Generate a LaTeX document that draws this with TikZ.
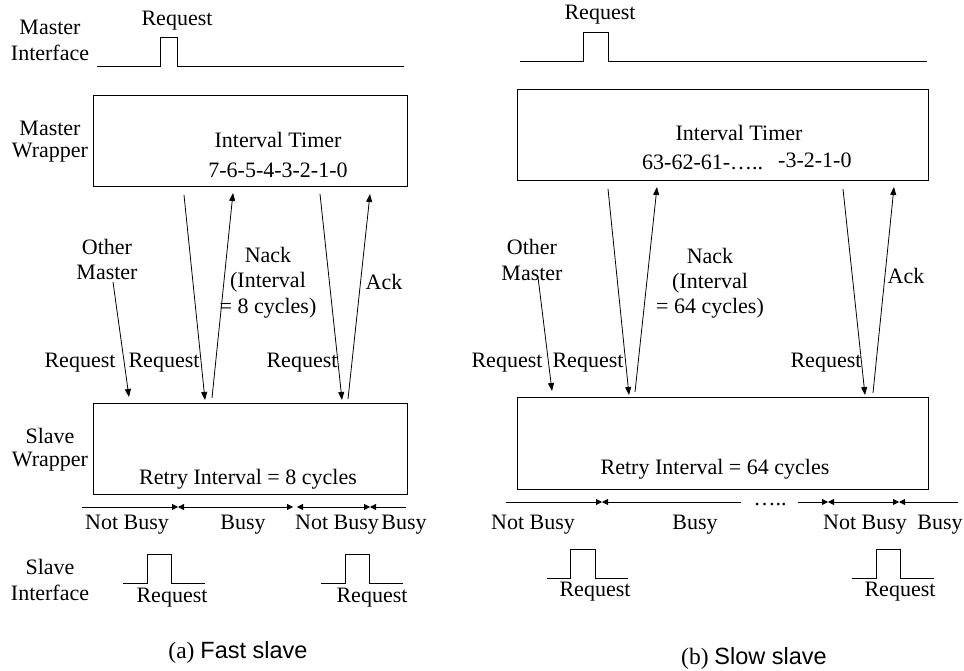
\documentclass[tikz,border=0pt]{standalone}
\usepackage{fontspec}
\setmainfont{Liberation Serif}
\newfontfamily\capsans{Liberation Sans}
\usetikzlibrary{arrows.meta}
\tikzset{spantip/.tip={Triangle[length=6pt,width=6pt]}}
\begin{document}
\begin{tikzpicture}[x=1pt,y=-1pt,
  lbl/.style={inner sep=0pt,font=\fontsize{22}{24}\selectfont},
  captext/.style={inner sep=0pt,font=\fontsize{23.5}{26}\selectfont},
  wire/.style={line width=0.9pt},
  block/.style={draw,line width=1pt,inner sep=0pt,anchor=north west},
  sig/.style={line width=0.8pt,-{Triangle[length=8pt,width=6pt]}},
  tick/.style={line width=0.8pt}]
\useasboundingbox (0,0) rectangle (964,671);

% ---------------- (a) fast slave ----------------
\node[lbl] (mi1) at (50,27) {Master};
\node[lbl] (mi2) at (50,53) {Interface};
\node[lbl] (mreqA) at (177,21) {Request};
\draw[wire] (97,66) -- (160,66) -- (160,37) -- (177,37) -- (177,66) -- (404,66);

\node[block,minimum width=314pt,minimum height=91pt] (mwA) at (93,95) {};
\node[lbl] (mwA1) at (50,128) {Master};
\node[lbl] (mwA2) at (50,153) {Wrapper};
\node[lbl] (itA) at (278,140) {Interval Timer};
\node[lbl] (cntA) at (278,170) {7-6-5-4-3-2-1-0};

\node[block,minimum width=314pt,minimum height=91pt] (swA) at (93,403) {};
\node[lbl] (swA1) at (50,436) {Slave};
\node[lbl] (swA2) at (50,462) {Wrapper};
\node[lbl] (riA) at (248,479) {Retry Interval = 8 cycles};

\coordinate (omA) at (113,282);
\coordinate (omAe) at (129,397);
\coordinate (rq1As) at (184,195);
\coordinate (rq1Ae) at (205,400);
\coordinate (nkAs) at (212,398);
\coordinate (nkAe) at (233,193);
\coordinate (rq2As) at (320,194);
\coordinate (rq2Ae) at (342,400);
\coordinate (akAs) at (348,399);
\coordinate (akAe) at (370,194);
\draw[sig] (omA) -- (omAe);
\draw[sig] (rq1As) -- (rq1Ae);
\draw[sig] (nkAs) -- (nkAe);
\draw[sig] (rq2As) -- (rq2Ae);
\draw[sig] (akAs) -- (akAe);

\node[lbl] (otA1) at (107,247) {Other};
\node[lbl] (otA2) at (107,272) {Master};
\node[lbl] (nkA1) at (268,255) {Nack};
\node[lbl] (nkA2) at (268,282) {(Interval};
\node[lbl] (nkA3) at (268,308) {= 8 cycles)};
\node[lbl] (akA) at (384,282) {Ack};
\node[lbl] (rqA1) at (80,363) {Request};
\node[lbl] (rqA2) at (164,363) {Request};
\node[lbl] (rqA3) at (302,363) {Request};

% busy / not busy time line
\draw[tick,-spantip] (82,507) -- (178,507);
\draw[tick,spantip-spantip] (178,507) -- (293,507);
\draw[tick,spantip-spantip] (297,507) -- (370,507);
\draw[tick,spantip-] (370,507) -- (406,507);
\node[lbl] (nbA1) at (127,525) {Not Busy};
\node[lbl] (bA1) at (243,525) {Busy};
\node[lbl] (nbA2) at (337,525) {Not Busy};
\node[lbl] (bA2) at (404,525) {Busy};

\node[lbl] (siA1) at (50,567) {Slave};
\node[lbl] (siA2) at (50,593) {Interface};
\draw[wire] (123,583) -- (147,583) -- (147,554) -- (171,554) -- (171,583) -- (205,583);
\draw[wire] (321,583) -- (345,583) -- (345,554) -- (369,554) -- (369,583) -- (403,583);
\node[lbl] (sreqA1) at (172,598) {Request};
\node[lbl] (sreqA2) at (372,598) {Request};

\node[captext] (capA) at (238,652) {(a) {\capsans Fast slave}};

% ---------------- (b) slow slave ----------------
\node[lbl] (mreqB) at (600,15) {Request};
\draw[wire] (520,61) -- (583,61) -- (583,32) -- (608,32) -- (608,61) -- (927,61);

\node[block,minimum width=411pt,minimum height=91pt] (mwB) at (517,89) {};
\node[lbl] (itB) at (739,133) {Interval Timer};
\node[lbl,anchor=west] (cntB1) at (642,162) {63-62-61-…..};
\node[lbl,anchor=west] (cntB2) at (778,160) {-3-2-1-0};

\node[block,minimum width=411pt,minimum height=92pt] (swB) at (517,397) {};
\node[lbl] (riB) at (715,469) {Retry Interval = 64 cycles};

\coordinate (omB) at (538,277);
\coordinate (omBe) at (552,391);
\coordinate (rq1Bs) at (608,189);
\coordinate (rq1Be) at (629,395);
\coordinate (nkBs) at (635,392);
\coordinate (nkBe) at (657,187);
\coordinate (rq2Bs) at (843,189);
\coordinate (rq2Be) at (865,395);
\coordinate (akBs) at (873,393);
\coordinate (akBe) at (894,187);
\draw[sig] (omB) -- (omBe);
\draw[sig] (rq1Bs) -- (rq1Be);
\draw[sig] (nkBs) -- (nkBe);
\draw[sig] (rq2Bs) -- (rq2Be);
\draw[sig] (akBs) -- (akBe);

\node[lbl] (otB1) at (532,247) {Other};
\node[lbl] (otB2) at (532,273) {Master};
\node[lbl] (nkB1) at (710,256) {Nack};
\node[lbl] (nkB2) at (710,283) {(Interval};
\node[lbl] (nkB3) at (710,308) {= 64 cycles)};
\node[lbl] (akB) at (906,276) {Ack};
\node[lbl] (rqB1) at (507,363) {Request};
\node[lbl] (rqB2) at (588,363) {Request};
\node[lbl] (rqB3) at (826,363) {Request};

% busy / not busy time line
\draw[tick,-spantip] (506,502) -- (602,502);
\draw[tick,spantip-] (602,502) -- (741,502);
\node[lbl,anchor=base] (gap) at (770,505) {…..};
\draw[tick,-spantip] (798,502) -- (828,502);
\draw[tick,spantip-spantip] (828,502) -- (899,502);
\draw[tick,spantip-] (899,502) -- (958,502);
\node[lbl] (nbB1) at (533,525) {Not Busy};
\node[lbl] (bB1) at (695,525) {Busy};
\node[lbl] (nbB2) at (865,525) {Not Busy};
\node[lbl] (bB2) at (940,525) {Busy};

\draw[wire] (547,578) -- (570,578) -- (570,549) -- (595,549) -- (595,578) -- (628,578);
\draw[wire] (852,578) -- (876,578) -- (876,549) -- (900,549) -- (900,578) -- (934,578);
\node[lbl] (sreqB1) at (595,592) {Request};
\node[lbl] (sreqB2) at (900,592) {Request};

\node[captext] (capB) at (754,658) {(b) {\capsans Slow slave}};
\end{tikzpicture}
\end{document}
